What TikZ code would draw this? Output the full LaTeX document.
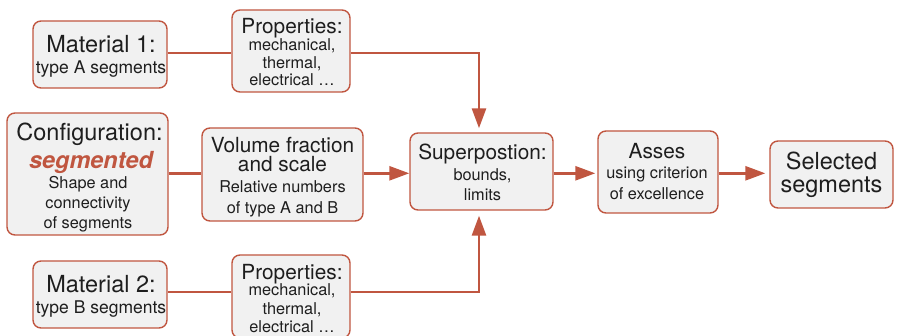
\documentclass[tikz,border=0pt]{standalone}
\usepackage{fontspec}
\setmainfont{TeX Gyre Heros}
\usetikzlibrary{arrows.meta}
\definecolor{edgered}{RGB}{192,86,64}
\definecolor{boxfill}{RGB}{241,241,241}
\definecolor{ink}{RGB}{30,30,30}
\newcommand\fsA{\fontsize{23.5}{26}\selectfont}
\newcommand\fsB{\fontsize{20.8}{24}\selectfont}
\newcommand\fsC{\fontsize{16.3}{19}\selectfont}
\newcommand\fsD{\fontsize{17.5}{20}\selectfont}
\begin{document}
\begin{tikzpicture}[x=1pt,y=-1pt,
  box/.style={draw=edgered, fill=boxfill, line width=1.4pt, rounded corners=8pt, inner sep=0pt},
  txt/.style={inner sep=0pt, anchor=base, text=ink},
  conn/.style={draw=edgered, line width=2.7pt},
  arr/.style={conn, -{Triangle[length=20pt,width=14pt]}}]
\path[use as bounding box] (0,0) rectangle (899,336);
\clip (0,0) rectangle (899,336);

% row levels of the connectors
\coordinate (rowA) at (0,53);
\coordinate (rowB) at (0,173.3);
\coordinate (rowC) at (0,292);
\coordinate (colV) at (479,0);

% boxes
\node[box, minimum width=134pt, minimum height=67pt] (m1) at (100,54.5) {};
\node[box, minimum width=118pt, minimum height=82pt] (p1) at (291,51) {};
\node[box, minimum width=161pt, minimum height=122pt] (cfg) at (87.5,174) {};
\node[box, minimum width=161pt, minimum height=93pt] (vol) at (282.5,174.5) {};
\node[box, minimum width=143pt, minimum height=77pt] (sp) at (481.5,171.5) {};
\node[box, minimum width=120pt, minimum height=82pt] (as) at (658,172) {};
\node[box, minimum width=123pt, minimum height=67pt] (sel) at (831.5,174.5) {};
\node[box, minimum width=134pt, minimum height=67pt] (m2) at (100,294.5) {};
\node[box, minimum width=118pt, minimum height=83pt] (p2) at (291,296.5) {};

% texts
\node[txt, font=\fsA] (m1a) at (101,52.3) {Material 1:};
\node[txt, font=\fsD] (m1b) at (101,74) {type A segments};

\node[txt, font=\fsB] (p1a) at (292,33.3) {Properties:};
\node[txt, font=\fsC] (p1b) at (292,50.7) {mechanical,};
\node[txt, font=\fsC] (p1c) at (292,68.3) {thermal,};
\node[txt, font=\fsC] (p1d) at (292,86) {electrical …};

\node[txt, font=\fsA] (cfga) at (89.5,141) {Configuration:};
\node[txt, font=\fsA\bfseries\itshape, text=edgered] (cfgb) at (91,168.3) {segmented};
\node[txt, font=\fsC] (cfgc) at (88,188.3) {Shape and};
\node[txt, font=\fsC] (cfgd) at (88,208.3) {connectivity};
\node[txt, font=\fsC] (cfge) at (88,228.3) {of segments};

\node[txt, font=\fsB] (vola) at (282.5,152.3) {Volume fraction};
\node[txt, font=\fsB] (volb) at (282.5,171.7) {and scale};
\node[txt, font=\fsC] (volc) at (282.5,192.3) {Relative numbers};
\node[txt, font=\fsC] (vold) at (282.5,213.3) {of type A and B};

\node[txt, font=\fsB] (spa) at (482.5,160) {Superpostion:};
\node[txt, font=\fsC] (spb) at (482.5,180.7) {bounds,};
\node[txt, font=\fsC] (spc) at (482.5,200.7) {limits};

\node[txt, font=\fsB] (asa) at (657,158.3) {Asses};
\node[txt, font=\fsC] (asb) at (657,178.3) {using criterion};
\node[txt, font=\fsC] (asc) at (657,199.3) {of excellence};

\node[txt, font=\fsA] (sela) at (831.5,169.3) {Selected};
\node[txt, font=\fsA] (selb) at (831.5,192.7) {segments};

\node[txt, font=\fsA] (m2a) at (101,292.3) {Material 2:};
\node[txt, font=\fsD] (m2b) at (101,314) {type B segments};

\node[txt, font=\fsB] (p2a) at (292,279.3) {Properties:};
\node[txt, font=\fsC] (p2b) at (292,296) {mechanical,};
\node[txt, font=\fsC] (p2c) at (292,315) {thermal,};
\node[txt, font=\fsC] (p2d) at (292,332.7) {electrical …};

% connectors
\draw[conn] (m1.east |- rowA) -- (p1.west |- rowA);
\draw[arr] (p1.east |- rowA) -| ([yshift=4pt]colV |- sp.north);
\draw[conn] (cfg.east |- rowB) -- (vol.west |- rowB);
\draw[arr] (vol.east |- rowB) -- (sp.west |- rowB);
\draw[arr] (sp.east |- rowB) -- ([xshift=-2pt]as.west |- rowB);
\draw[arr] (as.east |- rowB) -- ([xshift=-4pt]sel.west |- rowB);
\draw[conn] (m2.east |- rowC) -- (p2.west |- rowC);
\draw[arr] (p2.east |- rowC) -| ([yshift=-5pt]colV |- sp.south);
\end{tikzpicture}
\end{document}
